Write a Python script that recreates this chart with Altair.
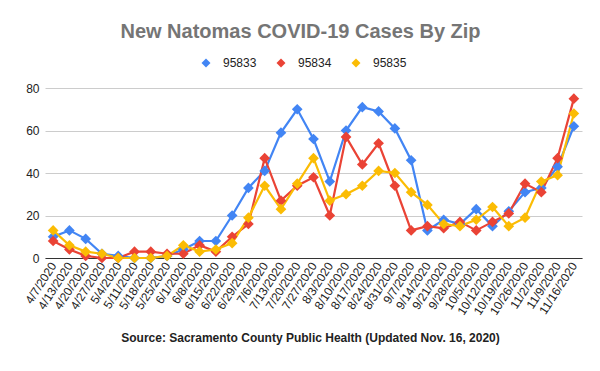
import altair as alt
import pandas as pd

dates = ["4/7/2020", "4/13/2020", "4/20/2020", "4/27/2020", "5/4/2020", "5/11/2020",
         "5/18/2020", "5/25/2020", "6/1/2020", "6/8/2020", "6/15/2020", "6/22/2020",
         "6/29/2020", "7/6/2020", "7/13/2020", "7/20/2020", "7/27/2020", "8/3/2020",
         "8/10/2020", "8/17/2020", "8/24/2020", "8/31/2020", "9/7/2020", "9/14/2020",
         "9/21/2020", "9/28/2020", "10/5/2020", "10/12/2020", "10/19/2020", "10/26/2020",
         "11/2/2020", "11/9/2020", "11/16/2020"]

zip_95833 = [10, 13, 9, 2, 1, 0, 0, 1, 4, 8, 8, 20, 33, 41, 59, 70, 56, 36, 60, 71, 69, 61,
             46, 13, 18, 16, 23, 15, 22, 31, 33, 43, 62]
zip_95834 = [8, 4, 1, 0, 0, 3, 3, 2, 2, 6, 3, 10, 16, 47, 27, 34, 38, 20, 57, 44, 54, 34,
             13, 15, 14, 17, 13, 17, 21, 35, 31, 47, 75]
zip_95835 = [13, 6, 3, 2, 0, 0, 0, 1, 6, 3, 4, 7, 19, 34, 23, 35, 47, 27, 30, 34, 41, 40,
             31, 25, 16, 15, 18, 24, 15, 19, 36, 39, 68]

series_names = ["95833", "95834", "95835"]
series_colors = ["#4285F4", "#EA4335", "#FBBC04"]

rows = []
for name, vals in zip(series_names, [zip_95833, zip_95834, zip_95835]):
    for d, v in zip(dates, vals):
        rows.append({"date": d, "zip": name, "cases": v})
df = pd.DataFrame(rows)

FONT = "Liberation Sans"

legend = alt.Legend(
    title=None, orient="none", direction="horizontal", legendX=155, legendY=-31,
    symbolType="diamond", symbolSize=80, symbolStrokeWidth=0,
    labelFontSize=12, labelFont=FONT, labelColor="#222222", labelOffset=11,
    columnPadding=18, padding=0,
)

color = alt.Color("zip:N", scale=alt.Scale(domain=series_names, range=series_colors),
                  legend=legend)

x = alt.X("date:O", sort=dates, scale=alt.Scale(type="point", padding=0.5),
          axis=alt.Axis(title="Source: Sacramento County Public Health (Updated Nov. 16, 2020)",
                        titleFont=FONT, titleFontSize=12, titleFontWeight="bold",
                        titleColor="#222222", titleX=265, titleY=83, titleAlign="center",
                        titleBaseline="alphabetic",
                        labelAngle=-57, labelFontSize=12, labelFont=FONT, labelColor="#222222",
                        labelAlign="right", labelBaseline="middle", labelPadding=5,
                        ticks=False, grid=False, domainColor="#333333", domainWidth=1))
y = alt.Y("cases:Q", scale=alt.Scale(domain=[0, 80]),
          axis=alt.Axis(title=None, values=[0, 20, 40, 60, 80], grid=True, gridColor="#cccccc",
                        domain=False, ticks=False, labelFontSize=12, labelFont=FONT,
                        labelColor="#222222", labelPadding=6))

chart = alt.Chart(df).mark_line(
    strokeWidth=2.2,
    point=alt.OverlayMarkDef(shape="diamond", size=115, filled=True, opacity=1),
).encode(x=x, y=y, color=color, order=alt.Order("zip:N")).properties(
    width=537, height=170,
    title=alt.TitleParams("New Natomas COVID-19 Cases By Zip", font=FONT, fontSize=20,
                          fontWeight="bold", color="#757575", anchor="middle", dx=-13, offset=15),
    autosize=alt.AutoSizeParams(type="none"),
    padding={"left": 37, "top": 80, "right": 10, "bottom": 95},
    background="white",
).configure_view(stroke=None)

chart.save("out.html", embed_options={"renderer": "svg", "actions": False})
